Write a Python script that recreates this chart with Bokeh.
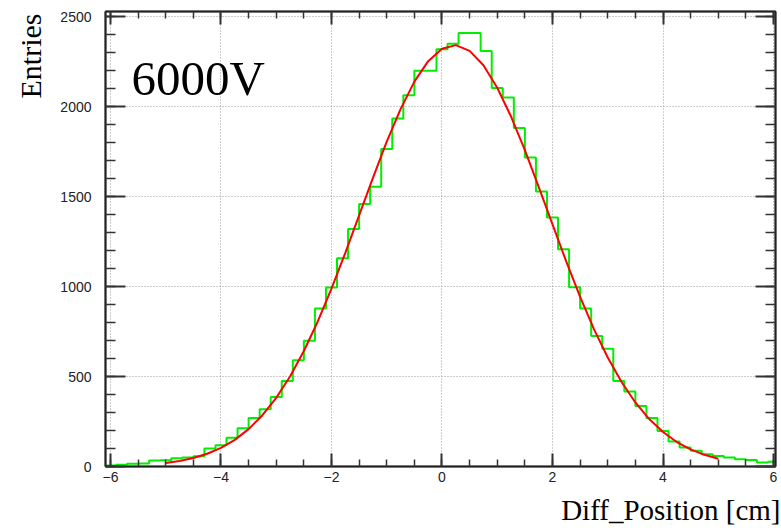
import math
from bokeh.plotting import figure
from bokeh.models import (Range1d, LinearAxis, SingleIntervalTicker, Label,
                          Grid, Title)
from bokeh.embed import file_html
from bokeh.resources import INLINE

# ---------------- data ----------------
bin_low_edge = -6.1
bin_width = 0.2
counts = [5, 10, 15, 17, 33, 35, 46, 50, 57, 100,
          118, 160, 213, 270, 319, 387, 476, 591, 699, 878,
          995, 1158, 1320, 1459, 1555, 1765, 1935, 2065, 2200, 2200,
          2320, 2350, 2410, 2410, 2311, 2104, 2052, 1882, 1718, 1529,
          1384, 1208, 997, 878, 726, 655, 476, 417, 337, 269,
          198, 139, 105, 87, 68, 59, 50, 41, 36, 22, 27]

fit_x = [-5.0, -4.75, -4.5, -4.25, -4.0, -3.75, -3.5, -3.25, -3.0, -2.75,
         -2.5, -2.25, -2.0, -1.75, -1.5, -1.25, -1.0, -0.75, -0.5, -0.25,
         0.0, 0.25, 0.5, 0.75, 1.0, 1.25, 1.5, 1.75, 2.0, 2.25,
         2.5, 2.75, 3.0, 3.25, 3.5, 3.75, 4.0, 4.25, 4.5, 4.75, 5.0]
fit_y = [20, 31, 47, 71, 104, 148, 208, 285, 382, 500,
         642, 805, 989, 1188, 1396, 1605, 1806, 1987, 2140, 2254,
         2323, 2343, 2311, 2231, 2106, 1946, 1759, 1555, 1346, 1139,
         943, 764, 606, 470, 356, 264, 192, 136, 95, 65, 43]

x_tick_interval = 2
y_tick_interval = 500
annotation_text = "6000V"
x_title = "Diff_Position [cm]"
y_title = "Entries"

# ---------------- figure ----------------
p = figure(width=781, height=532, output_backend="svg", toolbar_location=None,
           x_range=Range1d(-6.09, 6.036), y_range=Range1d(0, 2530),
           x_axis_type=None, y_axis_type=None,
           min_border_left=105, min_border_right=6, min_border_top=11,
           min_border_bottom=66)
p.background_fill_color = "white"
p.border_fill_color = "white"
p.outline_line_color = "#222222"
p.outline_line_width = 1.5

xticker = SingleIntervalTicker(interval=x_tick_interval, num_minor_ticks=4)
yticker = SingleIntervalTicker(interval=y_tick_interval, num_minor_ticks=5)


def style_axis(ax, tick_in, minor_in, labels):
    ax.major_tick_in = tick_in
    ax.major_tick_out = 0
    ax.minor_tick_in = minor_in
    ax.minor_tick_out = 0
    ax.axis_line_width = 2
    ax.axis_line_color = "#222222"
    ax.major_tick_line_width = 2
    ax.major_tick_line_color = "#333333"
    ax.minor_tick_line_width = 1.5
    ax.minor_tick_line_color = "#333333"
    if labels:
        ax.major_label_text_font = "Liberation Sans"
        ax.major_label_text_font_size = "14px"
        ax.major_label_text_color = "#222222"
    else:
        ax.major_label_text_font_size = "1px"
        ax.major_label_text_color = None
        ax.major_label_standoff = 0
        ax.axis_label_standoff = 0


xb = LinearAxis(ticker=xticker)
style_axis(xb, 13, 7, True)
xb.major_label_standoff = 5
p.add_layout(xb, "below")

yl = LinearAxis(ticker=yticker)
style_axis(yl, 20, 10, True)
yl.major_label_standoff = 14
p.add_layout(yl, "left")

xt = LinearAxis(ticker=xticker)
style_axis(xt, 13, 7, False)
p.add_layout(xt, "above")

yr = LinearAxis(ticker=yticker)
style_axis(yr, 20, 10, False)
p.add_layout(yr, "right")

for dim, tk in ((0, xticker), (1, yticker)):
    g = Grid(dimension=dim, ticker=tk)
    g.grid_line_color = "#9a9a9a"
    g.grid_line_dash = "1 2"
    g.grid_line_width = 1
    p.add_layout(g)

# ---------------- histogram (step outline) ----------------
edges = [bin_low_edge + i * bin_width for i in range(len(counts) + 1)]
hx, hy = [], []
for i, c in enumerate(counts):
    hx += [edges[i], edges[i + 1]]
    hy += [c, c]
p.line(hx, hy, line_color="#00ee00", line_width=2)

# ---------------- fit curve ----------------
p.line(fit_x, fit_y, line_color="#ff0000", line_width=2)

# ---------------- texts ----------------
p.add_layout(Label(x=26, y=388, x_units="screen", y_units="screen",
                   text=annotation_text, text_font="Liberation Serif",
                   text_font_size="49px", text_color="black",
                   text_baseline="alphabetic", text_align="left"))

p.add_layout(Title(text=x_title, align="right", offset=-5, standoff=14,
                   text_font="Liberation Serif", text_font_size="29px",
                   text_font_style="normal", text_color="black"), "below")
p.add_layout(Title(text=y_title, align="right", offset=2, standoff=22,
                   text_font="Liberation Serif", text_font_size="30px",
                   text_font_style="normal", text_color="black"), "left")

open("out.html", "w").write(file_html(p, INLINE))
